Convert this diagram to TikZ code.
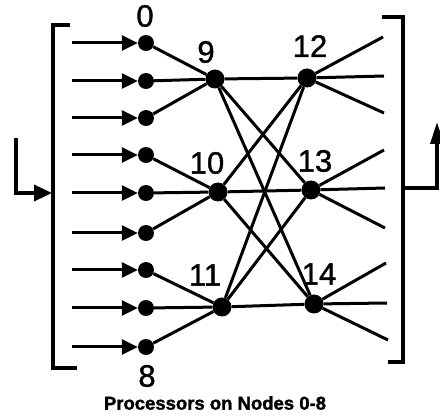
\documentclass[tikz,border=0pt]{standalone}
\usepackage{fontspec}
\setmainfont{Liberation Sans}
\newfontfamily\numfont[FakeBold=1.2]{Liberation Sans}
\newfontfamily\capfont[FakeBold=1.5]{Liberation Sans Bold}
\usetikzlibrary{arrows.meta}
\begin{document}
\begin{tikzpicture}[x=1pt,y=-1pt,
  wire/.style={line width=3pt},
  rail/.style={line width=3.4pt},
  dot/.style={circle,fill=black,inner sep=0pt,minimum size=16pt},
  hub/.style={circle,fill=black,inner sep=0pt,minimum size=19pt},
  num/.style={font=\fontsize{31}{31}\numfont,inner sep=0pt},
  feed/.style={wire,-{Triangle[length=16pt,width=15pt]}},
  caption/.style={font=\fontsize{18.5}{19}\capfont,inner sep=0pt}
]
\useasboundingbox (0,0) rectangle (440,417);

% processors on the input side
\foreach \i/\y in {0/43,1/81,2/118,3/155,4/193,5/233,6/270,7/308,8/347}{
  \node[dot] (p\i) at (146,\y) {};
  \coordinate (s\i) at (72,\y);
}
% first and second switching stages
\node[hub] (m9)  at (215,79) {};
\node[hub] (m10) at (218,192) {};
\node[hub] (m11) at (222,307) {};
\node[hub] (r12) at (307,78) {};
\node[hub] (r13) at (311,190) {};
\node[hub] (r14) at (314,304) {};

% labels
\node[num] (l0)  at (145,16) {0};
\node[num] (l8)  at (147,376) {8};
\node[num] (l9)  at (206,52) {9};
\node[num] (l10) at (207,163) {10};
\node[num] (l11) at (205,275) {11};
\node[num] (l12) at (310,46) {12};
\node[num] (l13) at (315,161) {13};
\node[num] (l14) at (319,274) {14};

% input arrows
\foreach \i in {0,...,8}{ \draw[feed] (s\i) -- (p\i); }

% processors to first stage
\foreach \i in {0,1,2}{ \draw[wire] (p\i) -- (m9); }
\foreach \i in {3,4,5}{ \draw[wire] (p\i) -- (m10); }
\foreach \i in {6,7,8}{ \draw[wire] (p\i) -- (m11); }

% full crossbar between the two stages
\foreach \a in {9,10,11}{
  \foreach \b in {12,13,14}{ \draw[wire] (m\a) -- (r\b); }
}

% fan-out of the second stage
\coordinate (o1) at (383,37);  \coordinate (o2) at (384,76);  \coordinate (o3) at (384,113);
\coordinate (o4) at (384,150); \coordinate (o5) at (385,188); \coordinate (o6) at (385,228);
\coordinate (o7) at (386,263); \coordinate (o8) at (387,303); \coordinate (o9) at (388,340);
\foreach \o in {1,2,3}{ \draw[wire] (r12) -- (o\o); }
\foreach \o in {4,5,6}{ \draw[wire] (r13) -- (o\o); }
\foreach \o in {7,8,9}{ \draw[wire] (r14) -- (o\o); }

% brackets
\draw[rail] (70,25) -- (53,25) -- (53,368) -- (77,368);
\draw[rail] (382,17) -- (403,17) -- (403,362) -- (388,362);

% loop-in and loop-out arrows
\coordinate (inTop) at (16,138);
\coordinate (inEnd) at (52,193);
\draw[rail,-{Triangle[length=18pt,width=16pt]}] (inTop) |- (inEnd);
\coordinate (outStart) at (403,188);
\coordinate (outTip) at (437,122);
\draw[rail,-{Triangle[length=22pt,width=13pt]}] (outStart) -| (outTip);

\node[caption] (cap) at (215,403) {Processors on Nodes 0-8};
\end{tikzpicture}
\end{document}
